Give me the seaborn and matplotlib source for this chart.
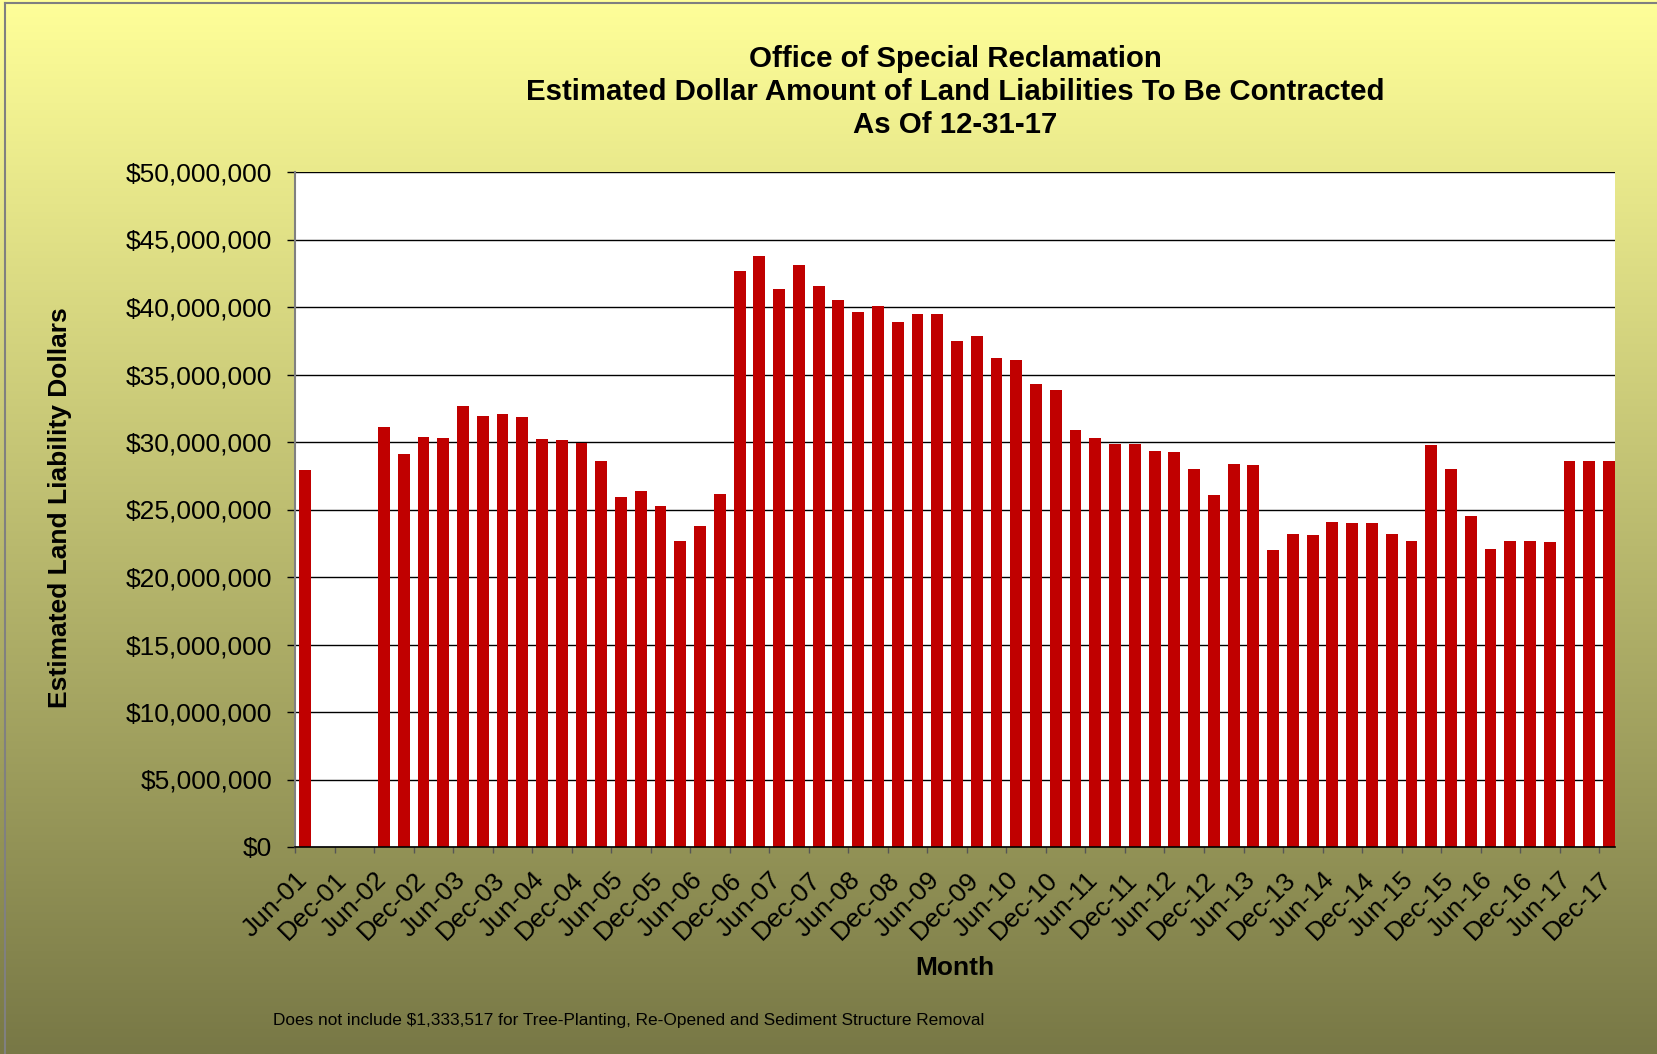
import numpy as np
import pandas as pd
import seaborn as sns
import matplotlib.pyplot as plt
from matplotlib.transforms import ScaledTranslation
from matplotlib.lines import Line2D

# quarterly reports, Jun-01 .. Dec-17
quarters = pd.date_range('2001-06-01', '2017-12-01', freq='QS-DEC').strftime('%b-%y').tolist()

# estimated liability in millions of dollars (None = no report that quarter)
liability_m = [27.89, None, None, None, 31.10, 29.12, 30.36, 30.31, 32.66, 31.94,
               32.04, 31.82, 30.23, 30.16, 29.96, 28.60, 25.93, 26.35, 25.29, 22.69,
               23.75, 26.18, 42.67, 43.78, 41.31, 43.12, 41.59, 40.55, 39.66, 40.10,
               38.89, 39.46, 39.46, 37.48, 37.88, 36.25, 36.10, 34.29, 33.87, 30.88,
               30.28, 29.84, 29.84, 29.35, 29.24, 27.98, 26.05, 28.40, 28.31, 22.00,
               23.19, 23.09, 24.05, 24.00, 24.00, 23.16, 22.64, 29.79, 27.98, 24.52,
               22.10, 22.64, 22.64, 22.59, 28.60, 28.60, 28.60]

title = ('Office of Special Reclamation\n'
         'Estimated Dollar Amount of Land Liabilities To Be Contracted\n'
         'As Of 12-31-17')
footnote = 'Does not include $1,333,517 for Tree-Planting, Re-Opened and Sediment Structure Removal'

df = pd.DataFrame({'quarter': quarters,
                   'value': [np.nan if v is None else v * 1e6 for v in liability_m]})

plt.rcParams['font.family'] = ['Liberation Sans', 'DejaVu Sans']

W, H = 1657, 1054
fig = plt.figure(figsize=(W / 100, H / 100), dpi=100)

# chart background: yellow to olive gradient
bg = fig.add_axes([0, 0, 1, 1], zorder=-10)
top_c = np.array([255, 255, 153]) / 255
bot_c = np.array([120, 120, 70]) / 255
t = np.linspace(0, 1, 512)[:, None, None]
grad = top_c * (1 - t) + bot_c * t
bg.imshow(grad, aspect='auto', extent=[0, 1, 0, 1])
bg.set_xlim(0, 1)
bg.set_ylim(0, 1)
bg.axis('off')

ax = fig.add_axes([295 / W, 1 - 847 / H, 1320 / W, 675 / H])
ax.set_facecolor('white')
sns.barplot(data=df, x='quarter', y='value', order=quarters, color='#C00000',
            saturation=1, width=0.6, linewidth=0, errorbar=None, ax=ax)

ax.set_ylim(0, 50e6)
ax.set_yticks(np.arange(0, 50e6 + 1, 5e6))
ax.yaxis.set_major_formatter(plt.FuncFormatter(lambda v, p: f'${v:,.0f}'))
ax.yaxis.grid(True, color='black', lw=1)
ax.set_axisbelow(True)
ax.set_xlim(-0.5, 66.3)

ax.set_xticks(np.arange(0, 67, 2) - 0.5)
ax.set_xticklabels(quarters[::2], rotation=45, ha='right', va='top', rotation_mode='anchor')
shift = ScaledTranslation(4.5 / 100, 0, fig.dpi_scale_trans)
for lab in ax.get_xticklabels():
    lab.set_transform(lab.get_transform() + shift)

ax.tick_params(axis='x', length=4.3, width=1, color='#555555', labelsize=19, pad=10.5)
ax.tick_params(axis='y', length=5.8, width=1, color='black', labelsize=19, pad=10.5)
ax.set_xlabel('')
ax.set_ylabel('')

for s in ['top', 'right']:
    ax.spines[s].set_visible(False)
ax.spines['left'].set_color('#808080')
ax.spines['left'].set_linewidth(1.5)
ax.spines['bottom'].set_color('black')
ax.spines['bottom'].set_linewidth(1.2)

fig.text(955 / W, 1 - 92 / H, title, ha='center', va='center', fontsize=21.2,
         fontweight='bold', linespacing=1.24)
fig.text(60 / W, 1 - 508 / H, 'Estimated Land Liability Dollars', rotation=90,
         ha='center', va='center', fontsize=19, fontweight='bold')
fig.text(955 / W, 1 - 968 / H, 'Month', ha='center', va='center', fontsize=19,
         fontweight='bold')
fig.text(273 / W, 1 - 1021 / H, footnote, ha='left', va='center', fontsize=12.4)

# thin chart border
fig.add_artist(Line2D([5 / W, 5 / W], [0, 1 - 3 / H], color='#808080', lw=1.5))
fig.add_artist(Line2D([5 / W, 1], [1 - 3 / H, 1 - 3 / H], color='#808080', lw=1.5))

fig.savefig('out.png', dpi=100)
